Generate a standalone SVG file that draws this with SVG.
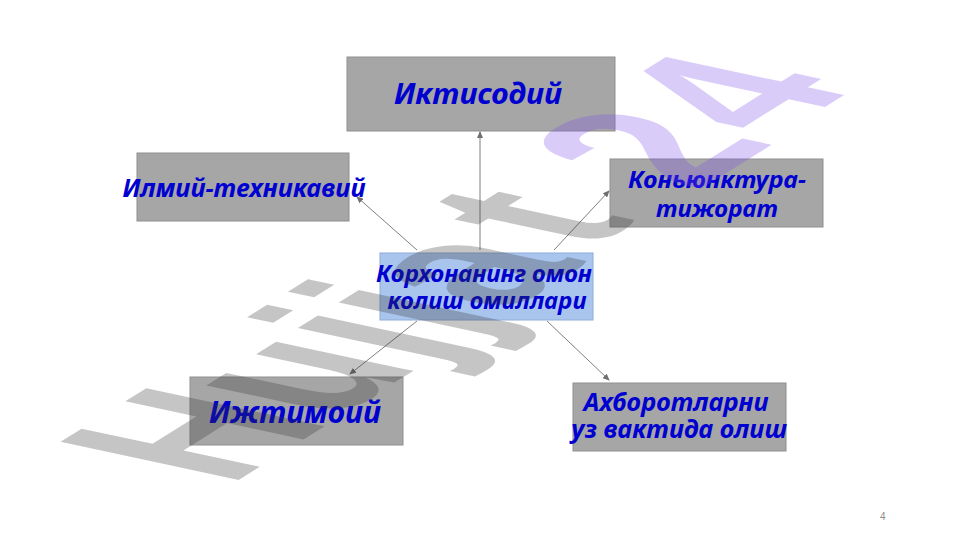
<svg xmlns="http://www.w3.org/2000/svg" width="961" height="540" viewBox="0 0 961 540">
<defs>
<style>
.box{fill:#a6a6a6;stroke:#8f8f8f;stroke-width:1}
.ctr{fill:#a9c5ee;stroke:#8eaad9;stroke-width:1}
.lbl{font-family:"Noto Sans","DejaVu Sans",sans-serif;font-weight:bold;font-style:italic;fill:#0000d0;text-anchor:middle}
.conn{stroke:#7f7f7f;stroke-width:1;fill:none;marker-end:url(#arr)}
.wm{font-family:"Liberation Sans",Arial,sans-serif;font-weight:bold;font-size:100px}
.pg{font-family:"Liberation Sans",Arial,sans-serif;font-size:10px;fill:#8c8c8c}
</style>
<marker id="arr" markerWidth="7" markerHeight="6" refX="6" refY="3" orient="auto" markerUnits="userSpaceOnUse">
<path d="M0,0 L7,3 L0,6 Z" fill="#6f6f6f"/>
</marker>
</defs>
<rect width="961" height="540" fill="#ffffff"/>
<g id="node-iqtisodiy">
<rect class="box" x="347" y="57" width="268" height="74"/>
<text class="lbl" x="478" y="104" font-size="29" textLength="168" lengthAdjust="spacingAndGlyphs">Иктисодий</text>
</g>
<g id="node-ilmiy">
<rect class="box" x="137" y="153" width="212" height="68"/>
<text class="lbl" x="244" y="197" font-size="25" textLength="243" lengthAdjust="spacingAndGlyphs">Илмий-техникавий</text>
</g>
<g id="node-konyunktura">
<rect class="box" x="610" y="159" width="213" height="68"/>
<text class="lbl" x="717" y="188" font-size="24" textLength="178" lengthAdjust="spacingAndGlyphs">Коньюнктура-</text>
<text class="lbl" x="717" y="217" font-size="24" textLength="122" lengthAdjust="spacingAndGlyphs">тижорат</text>
</g>
<g id="node-center">
<rect class="ctr" x="380" y="253" width="213" height="67"/>
<text class="lbl" x="484" y="282" font-size="23" textLength="216" lengthAdjust="spacingAndGlyphs">Корхонанинг омон</text>
<text class="lbl" x="487" y="309" font-size="23" textLength="199" lengthAdjust="spacingAndGlyphs">колиш омиллари</text>
</g>
<g id="node-ijtimoiy">
<rect class="box" x="190" y="377" width="213" height="68"/>
<text class="lbl" x="295" y="423" font-size="30" textLength="172" lengthAdjust="spacingAndGlyphs">Ижтимоий</text>
</g>
<g id="node-axborot">
<rect class="box" x="573" y="383" width="213" height="68"/>
<text class="lbl" x="676" y="411" font-size="25" textLength="185" lengthAdjust="spacingAndGlyphs">Ахборотларни</text>
<text class="lbl" x="679" y="438" font-size="25" textLength="216" lengthAdjust="spacingAndGlyphs">уз вактида олиш</text>
</g>
<g id="connectors">
<line class="conn" x1="480" y1="250" x2="480" y2="132"/>
<line class="conn" x1="417" y1="250" x2="357" y2="197"/>
<line class="conn" x1="554" y1="250" x2="609" y2="191"/>
<line class="conn" x1="417" y1="321" x2="350" y2="374"/>
<line class="conn" x1="547" y1="321" x2="609" y2="380"/>
</g>
<g id="watermark" opacity="0.28">
<text class="wm" transform="matrix(1.459 -0.912 2.59 0.554 229 486)"><tspan fill="#333333" x="0 72 134 162 190 256" y="0 0 0 0 0 -5">Hujjat</tspan><tspan fill="#7d4ced" x="322 381" y="-1 -3">24</tspan></text>
</g>
<text class="pg" x="880" y="520">4</text>
</svg>
